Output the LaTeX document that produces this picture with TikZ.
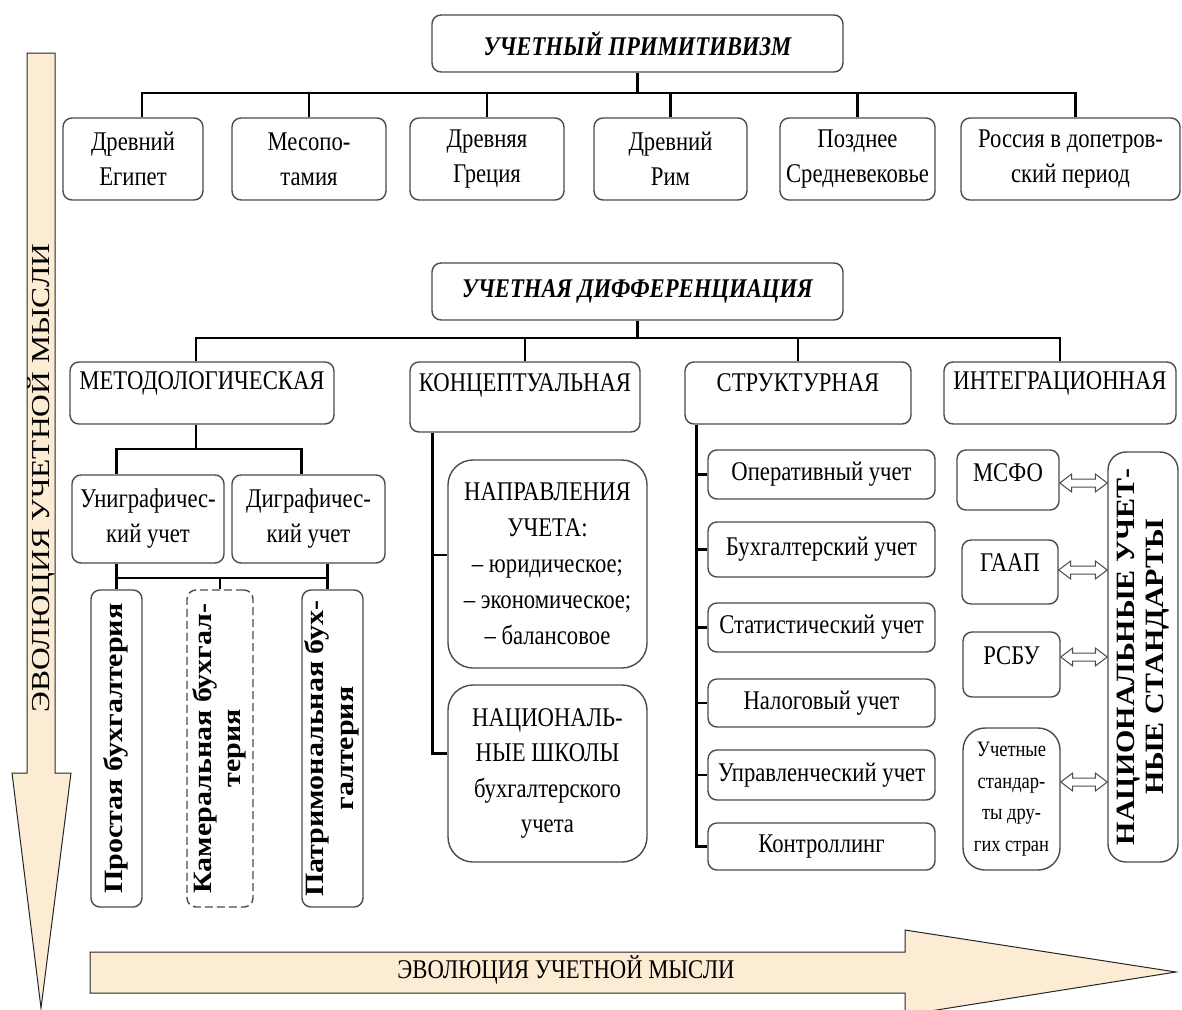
\documentclass[tikz,border=0pt]{standalone}
\usepackage{fontspec}
\usepackage{graphicx}
\setmainfont{Liberation Serif}[FakeStretch=0.84]
\newfontfamily\vfont{Liberation Serif}
\usetikzlibrary{calc}
\definecolor{boxline}{RGB}{75,75,75}
\definecolor{beige}{RGB}{252,236,212}
\newcommand\lift[2]{\raisebox{#1pt}[\height][\depth]{#2}}
\newcommand\vtxt[1]{\rotatebox{90}{\scalebox{1}[0.88]{\vfont\bfseries\fontsize{30}{34}\selectfont\begin{tabular}{@{}c@{}}#1\end{tabular}}}}
\begin{document}
\begin{tikzpicture}[x=1pt,y=-1pt,
  box/.style={draw=boxline, line width=1.4pt, rounded corners=9pt, fill=white, align=center, inner sep=0pt, font=\fontsize{27}{35}\selectfont},
  sz/.style 2 args={minimum width=#1pt, minimum height=#2pt},
  conn/.style={line width=2.4pt, black},
  bigarrow/.style={draw=black!85, line width=1pt, fill=beige, line join=miter},
  dbl/.style={draw=boxline, line width=1pt, fill=white, line join=miter},
  ttl/.style={font=\fontsize{27}{35}\selectfont\bfseries\itshape}
]
\useasboundingbox (0,0) rectangle (1182,1009);

% big arrows
\path[bigarrow] (27,53) -- (55,53) -- (55,773) -- (71,773) -- (41,1008) -- (12,773) -- (27,773) -- cycle;
\path[bigarrow] (90,952) -- (905,952) -- (905,930) -- (1176,972) -- (905,1015) -- (905,993) -- (90,993) -- cycle;
\node[rotate=90, inner sep=0pt] (evov) at (41,478) {\scalebox{1}[0.82]{\vfont\fontsize{31.5}{32}\selectfont ЭВОЛЮЦИЯ УЧЕТНОЙ МЫСЛИ}};
\node[font=\fontsize{27}{30}\selectfont] (evoh) at (566,970) {ЭВОЛЮЦИЯ УЧЕТНОЙ МЫСЛИ};

% level 1
\node[box, ttl, sz={411}{57}] (t1) at (637.5,43.5) {УЧЕТНЫЙ ПРИМИТИВИЗМ};
\node[box, sz={140}{82}] (egypt) at (133,159) {Древний\\Египет};
\node[box, sz={154}{82}] (meso) at (309,159) {Месопо-\\тамия};
\node[box, sz={154}{82}] (greece) at (487,159) {Древняя\\Греция};
\node[box, sz={153}{82}] (rome) at (670.5,159) {Древний\\Рим};
\node[box, sz={155}{82}] (late) at (857.5,159) {Позднее\\Средневековье};
\node[box, sz={219}{82}] (russia) at (1070.5,159) {Россия в допетров-\\ский период};

\coordinate (b1) at ($(t1.south)+(0,20)$);
\draw[conn] (t1.south) -- (b1);
\draw[conn] ($(egypt.north)+(9,0)$) |- (b1) -| ($(russia.north)+(5,0)$);
\foreach \n in {meso,greece,rome,late} \draw[conn] (\n.north) -- (\n.north |- b1);

% level 2
\node[box, ttl, sz={411}{57}] (t2) at (637.5,291.5) {УЧЕТНАЯ ДИФФЕРЕНЦИАЦИЯ};
\node[box, sz={264}{62}] (meth) at (202,393) {\lift{10}{МЕТОДОЛОГИЧЕСКАЯ}};
\node[box, sz={230}{70}] (conc) at (525,397) {\lift{12}{КОНЦЕПТУАЛЬНАЯ}};
\node[box, sz={226}{62}] (struct) at (798,393) {\lift{10}{СТРУКТУРНАЯ}};
\node[box, sz={232}{62}] (integ) at (1060,393) {\lift{10}{ИНТЕГРАЦИОННАЯ}};

\coordinate (b2) at ($(t2.south)+(0,17)$);
\draw[conn] (t2.south) -- (b2);
\draw[conn] ($(meth.north)+(-6,0)$) |- (b2) -| (integ.north);
\foreach \n in {conc,struct} \draw[conn] (\n.north) -- (\n.north |- b2);

% methodological branch
\node[box, sz={152}{88}] (uni) at (148,519) {Униграфичес-\\кий учет};
\node[box, sz={153}{88}] (di) at (308.5,519) {Диграфичес-\\кий учет};
\node[box, sz={51}{317}] (prost) at (116.5,748.5) {\vtxt{Простая бухгалтерия}};
\node[box, dash pattern=on 8pt off 4pt, sz={66}{317}] (kam) at (220,748.5) {\vtxt{Камеральная бухгал-\\терия}};
\node[box, sz={61}{317}] (patr) at (332.5,748.5) {\vtxt{Патримональная бух-\\галтерия}};

\coordinate (b3) at ($(meth.south)+(-6,24)$);
\draw[conn] ($(meth.south)+(-6,0)$) -- (b3);
\draw[conn] (uni.north -| prost.north) |- (b3) -| ($(di.north west)+(70,0)$);
\coordinate (b4) at (220,578);
\draw[conn] (uni.south -| prost.north) -- (prost.north);
\draw[conn] ($(di.south -| patr.north)+(-5,0)$) -- ($(patr.north)+(-5,0)$);
\draw[conn] (prost.north |- b4) -- ($(patr.north |- b4)+(-5,0)$);
\draw[conn] (kam.north |- b4) -- (kam.north);

% conceptual branch
\node[box, rounded corners=25pt, sz={199}{208}, font=\fontsize{27}{36}\selectfont] (napr) at (547.5,564) {НАПРАВЛЕНИЯ\\УЧЕТА:\\– юридическое;\\– экономическое;\\– балансовое};
\node[box, rounded corners=25pt, sz={199}{177}, font=\fontsize{27}{35.5}\selectfont] (natsch) at (547.5,773.5) {НАЦИОНАЛЬ-\\НЫЕ ШКОЛЫ\\бухгалтерского\\учета};
\coordinate (cs) at ($(conc.south west)+(23,0)$);
\draw[conn] (cs) |- ($(natsch.west)+(0,-20)$);
\draw[conn] (cs |- napr.west) ++(0,-9) -- ($(napr.west)+(0,-9)$);

% structural branch
\node[box, sz={227}{49}] (oper) at (821.5,474.5) {Оперативный учет};
\node[box, sz={227}{55}] (buh) at (821.5,549.5) {Бухгалтерский учет};
\node[box, sz={227}{49}] (stat) at (821.5,627.5) {Статистический учет};
\node[box, sz={227}{48}] (nal) at (821.5,703) {Налоговый учет};
\node[box, sz={227}{50}] (upr) at (821.5,775) {Управленческий учет};
\node[box, sz={227}{47}] (kontr) at (821.5,846.5) {Контроллинг};
\coordinate (ss) at ($(struct.south west)+(12,0)$);
\draw[conn] (ss) |- (kontr.west);
\foreach \n in {oper,buh,stat,nal,upr} \draw[conn] (ss |- \n.west) -- (\n.west);

% integration branch
\node[box, sz={102}{60}] (msfo) at (1008,480) {\lift{7}{МСФО}};
\node[box, sz={96}{64}] (gaap) at (1010,572) {\lift{9}{ГААП}};
\node[box, sz={97}{65}] (rsbu) at (1011.5,664.5) {\lift{9}{РСБУ}};
\node[box, rounded corners=22pt, sz={97}{142}, font=\fontsize{22}{31.5}\selectfont] (other) at (1011.5,799) {Учетные\\стандар-\\ты дру-\\гих стран};
\node[box, rounded corners=18pt, sz={70}{410}] (natstd) at (1143,657) {\vtxt{НАЦИОНАЛЬНЫЕ УЧЕТ-\\НЫЕ СТАНДАРТЫ}};

\newcommand\dblarr[3]{%
  \path[dbl] (#1.east |- 0,#3) -- ++(12,-9) -- ++(0,5) -- ($(#2.west |- 0,#3)+(-12,-4)$) -- ++(0,-5) -- (#2.west |- 0,#3) -- ++(-12,9) -- ++(0,-5) -- ($(#1.east |- 0,#3)+(12,4)$) -- ++(0,5) -- cycle;}
\dblarr{msfo}{natstd}{483}
\dblarr{gaap}{natstd}{570}
\dblarr{rsbu}{natstd}{657}
\dblarr{other}{natstd}{782}
\end{tikzpicture}
\end{document}
